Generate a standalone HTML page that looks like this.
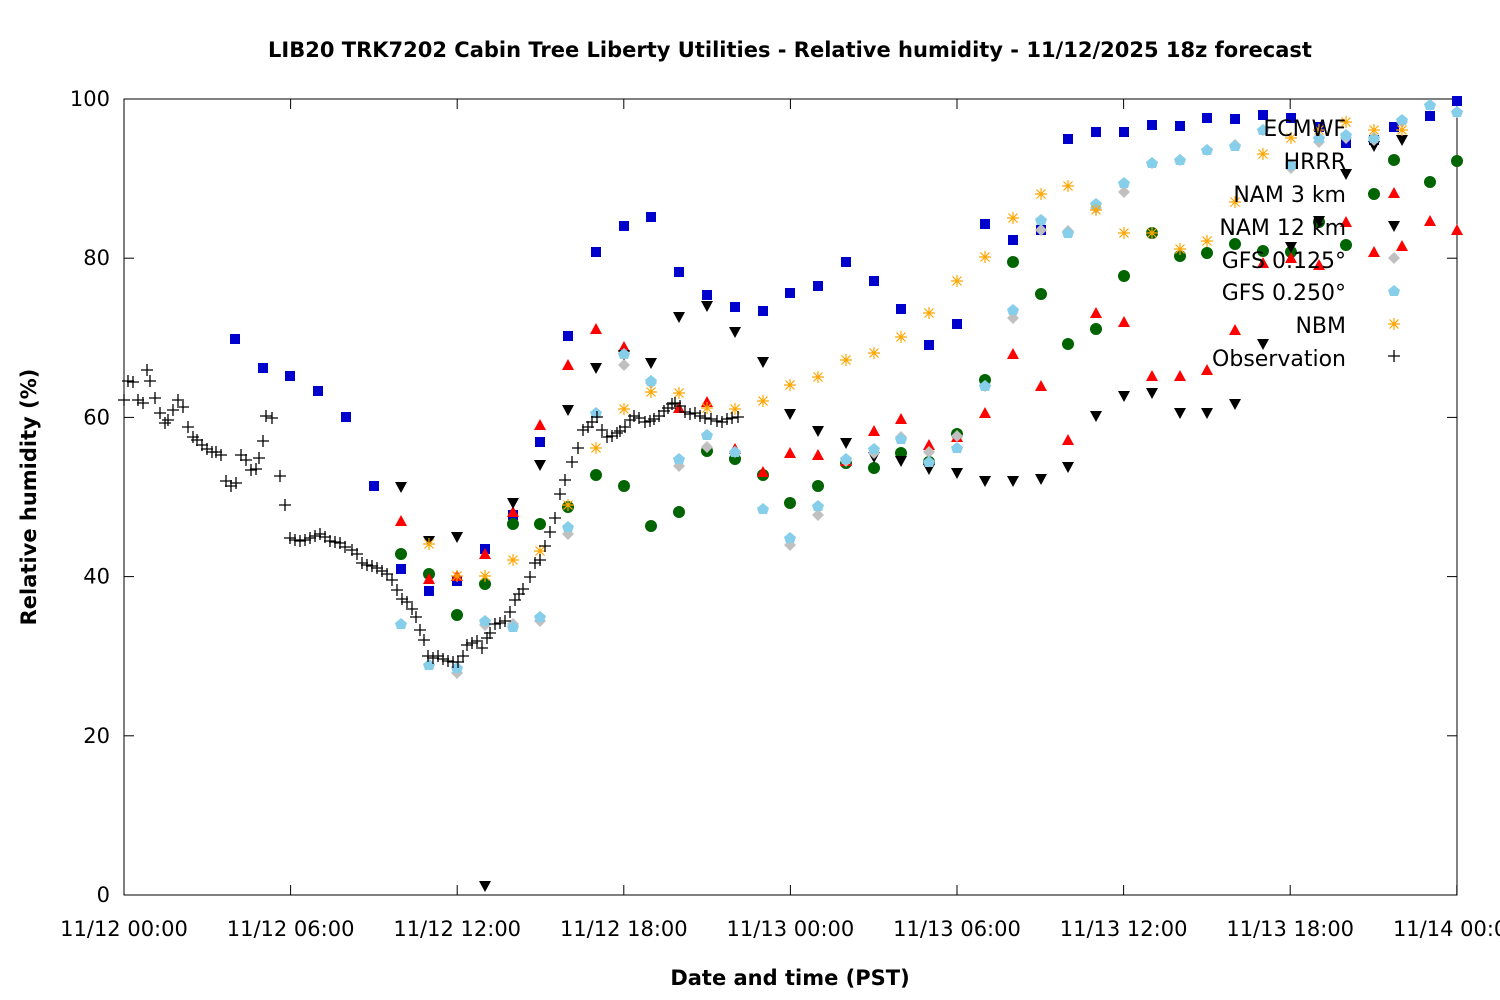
<!DOCTYPE html>
<html><head><meta charset="utf-8"><style>
body{margin:0;background:#fff}
svg{display:block}
text{font-family:"DejaVu Sans","Liberation Sans",sans-serif;fill:#000}
</style></head><body>
<svg id="s" width="1500" height="1000" xmlns="http://www.w3.org/2000/svg">
<text x="790" y="57" font-size="21" font-weight="bold" text-anchor="middle">LIB20 TRK7202 Cabin Tree Liberty Utilities - Relative humidity - 11/12/2025 18z forecast</text>
<text transform="translate(36,497) rotate(-90)" font-size="21" font-weight="bold" text-anchor="middle">Relative humidity (%)</text>
<text x="790" y="985" font-size="21" font-weight="bold" text-anchor="middle">Date and time (PST)</text>
<g id="ax"></g>
<g id="pts"></g>
<g font-size="22" text-anchor="end">
<text x="1346" y="136">ECMWF</text>
<text x="1346" y="169">HRRR</text>
<text x="1346" y="202">NAM 3 km</text>
<text x="1346" y="235">NAM 12 km</text>
<text x="1346" y="268">GFS 0.125°</text>
<text x="1346" y="300">GFS 0.250°</text>
<text x="1346" y="333">NBM</text>
<text x="1346" y="366">Observation</text>
</g>
</svg>
<script>
const NS="http://www.w3.org/2000/svg";
const ax=document.getElementById('ax'),P=document.getElementById('pts');
function el(p,t,a){const e=document.createElementNS(NS,t);for(const k in a)e.setAttribute(k,a[k]);p.appendChild(e);return e;}
el(ax,'rect',{x:124,y:99,width:1333,height:796,fill:'none',stroke:'#000','stroke-width':1});
for(let i=0;i<=5;i++){const y=895-i*159.2;
 el(ax,'line',{x1:124,x2:134,y1:y,y2:y,stroke:'#000'});el(ax,'line',{x1:1447,x2:1457,y1:y,y2:y,stroke:'#000'});
 const t=el(ax,'text',{x:110,y:y+7,'font-size':21,'text-anchor':'end'});t.textContent=i*20;}
const xl=["11/12 00:00","11/12 06:00","11/12 12:00","11/12 18:00","11/13 00:00","11/13 06:00","11/13 12:00","11/13 18:00","11/14 00:00"];
for(let i=0;i<=8;i++){const x=124+i*166.6;
 el(ax,'line',{x1:x,x2:x,y1:895,y2:885,stroke:'#000'});el(ax,'line',{x1:x,x2:x,y1:99,y2:109,stroke:'#000'});
 const t=el(ax,'text',{x:x,y:936,'font-size':21,'text-anchor':'middle'});t.textContent=xl[i];}
function parse(s){return s.trim().split(/\)\s*,?\s*\(/).map(p=>p.replace(/[()]/g,'').split(',').map(Number));}
const M={
sq:(x,y,c)=>el(P,'rect',{x:x-5,y:y-5,width:10,height:10,fill:c}),
ci:(x,y,c)=>el(P,'circle',{cx:x,cy:y,r:6,fill:c}),
up:(x,y,c)=>el(P,'polygon',{points:`${x-6},${y+5} ${x+6},${y+5} ${x},${y-6}`,fill:c}),
dn:(x,y,c)=>el(P,'polygon',{points:`${x-6},${y-5} ${x+6},${y-5} ${x},${y+6}`,fill:c}),
di:(x,y,c)=>el(P,'polygon',{points:`${x},${y-6} ${x+6},${y} ${x},${y+6} ${x-6},${y}`,fill:c}),
pe:(x,y,c)=>el(P,'polygon',{points:`${x},${y-6} ${x+6},${y-1} ${x+4},${y+5} ${x-4},${y+5} ${x-6},${y-1}`,fill:c}),
st:(x,y,c)=>el(P,'path',{d:`M${x-6} ${y}H${x+6}M${x} ${y-6}V${y+6}M${x-4.5} ${y-4.5}L${x+4.5} ${y+4.5}M${x-4.5} ${y+4.5}L${x+4.5} ${y-4.5}`,stroke:c,'stroke-width':1.2,fill:'none'}),
pl:(x,y,c)=>el(P,'path',{d:`M${x-6} ${y}H${x+6}M${x} ${y-6}V${y+6}`,stroke:c,'stroke-width':1.3,fill:'none'})};
const S=[
['sq','#0000cc',"(235,339),(263,368),(290,376),(318,391),(346,417),(374,486),(401,569),(429,591),(457,581),(485,549),(513,515),(540,442),(568,336),(596,252),(624,226),(651,217),(679,272),(707,295),(735,307),(763,311),(790,293),(818,286),(846,262),(874,281),(901,309),(929,345),(957,324),(985,224),(1013,240),(1041,230),(1068,139),(1096,132),(1124,132),(1152,125),(1180,126),(1207,118),(1235,119),(1263,115),(1291,118),(1319,127),(1346,143),(1374,140),(1394,127),(1430,116),(1457,101)"],
['ci','#006400',"(401,554),(429,574),(457,615),(485,584),(513,524),(540,524),(568,507),(596,475),(624,486),(651,526),(679,512),(707,451),(735,459),(763,475),(790,503),(818,486),(846,463),(874,468),(901,453),(929,462),(957,434),(985,380),(1013,262),(1041,294),(1068,344),(1096,329),(1124,276),(1152,233),(1180,256),(1207,253),(1235,244),(1263,251),(1291,252),(1319,222),(1346,245),(1374,194),(1394,160),(1430,182),(1457,161)"],
['up','#ff0000',"(401,521),(429,579),(457,576),(485,554),(513,512),(540,425),(568,365),(596,329),(624,347),(679,408),(707,402),(735,449),(763,472),(790,453),(818,455),(846,461),(874,431),(901,419),(929,445),(957,437),(985,413),(1013,354),(1041,386),(1068,440),(1096,313),(1124,322),(1152,376),(1180,376),(1207,370),(1235,330),(1263,263),(1291,258),(1319,265),(1346,222),(1374,252),(1394,193),(1402,246),(1430,221),(1457,230)"],
['dn','#000000',"(401,487),(429,541),(457,537),(485,886),(513,503),(540,465),(568,410),(596,368),(624,355),(651,363),(679,317),(707,306),(735,332),(763,362),(790,414),(818,431),(846,443),(874,457),(901,461),(929,469),(957,473),(985,481),(1013,481),(1041,479),(1068,467),(1096,416),(1124,396),(1152,393),(1180,413),(1207,413),(1235,404),(1263,344),(1291,247),(1319,221),(1346,174),(1374,146),(1402,140),(1394,226)"],
['di','#c0c0c0',"(457,673),(485,625),(513,624),(540,621),(568,534),(624,365),(651,383),(679,466),(707,447),(735,452),(790,545),(818,515),(846,461),(874,453),(901,437),(929,452),(957,436),(985,386),(1013,318),(1041,230),(1068,231),(1096,208),(1124,192),(1152,163),(1180,160),(1207,150),(1235,145),(1263,130),(1291,168),(1319,142),(1346,138),(1374,140),(1402,122),(1430,105),(1457,112),(1394,258)"],
['pe','#87ceeb',"(401,624),(429,665),(457,668),(485,621),(513,627),(540,617),(568,527),(596,413),(624,354),(651,381),(679,459),(707,435),(735,452),(763,509),(790,538),(818,506),(846,459),(874,449),(901,439),(929,462),(957,448),(985,386),(1013,310),(1041,220),(1068,233),(1096,204),(1124,183),(1152,163),(1180,160),(1207,150),(1235,146),(1263,130),(1291,165),(1319,138),(1346,135),(1374,138),(1402,120),(1430,105),(1457,112),(1394,291)"],
['st','#ffa500',"(429,544),(457,576),(485,576),(513,560),(540,551),(568,505),(596,448),(624,409),(651,392),(679,393),(707,408),(735,409),(763,401),(790,385),(818,377),(846,360),(874,353),(901,337),(929,313),(957,281),(985,257),(1013,218),(1041,194),(1068,186),(1096,210),(1124,233),(1152,233),(1180,249),(1207,241),(1235,202),(1263,154),(1291,138),(1319,130),(1346,122),(1374,130),(1402,130),(1394,324)"],
['pl','#000000',"(124,400),(128,381),(133,382),(138,400),(143,403),(147,370),(150,381),(155,398),(160,413),(165,423),(168,420),(173,410),(178,400),(183,407),(188,427),(193,437),(197,440),(202,445),(207,449),(212,452),(216,452),(221,455),(226,481),(231,486),(236,483),(241,455),(246,460),(251,470),(256,469),(259,458),(263,441),(266,416),(272,418),(280,476),(285,505),(290,538),(295,540),(300,541),(305,540),(310,538),(315,536),(320,534),(325,537),(330,541),(335,542),(340,543),(345,547),(352,550),(357,554),(362,563),(367,565),(372,566),(377,568),(382,571),(387,574),(392,580),(397,590),(402,599),(407,602),(412,609),(416,617),(420,630),(424,640),(428,656),(433,658),(438,656),(443,659),(448,661),(453,662),(458,662),(463,656),(467,645),(472,643),(477,641),(482,648),(487,638),(490,633),(495,624),(500,623),(505,621),(510,612),(515,600),(519,594),(523,589),(530,577),(535,563),(540,560),(545,546),(550,532),(555,518),(560,494),(565,480),(572,462),(578,448),(583,430),(588,427),(592,422),(597,417),(602,430),(607,437),(612,436),(617,433),(620,431),(625,427),(630,420),(634,416),(639,418),(645,422),(650,421),(654,419),(659,416),(664,411),(668,408),(672,404),(675,403),(680,406),(685,412),(690,414),(695,413),(700,416),(705,418),(711,419),(717,421),(722,422),(727,419),(732,418),(738,417),(1394,356)"]];
for(const [m,c,d] of S)for(const [x,y] of parse(d))M[m](x,y,c);
</script>
</body></html>
